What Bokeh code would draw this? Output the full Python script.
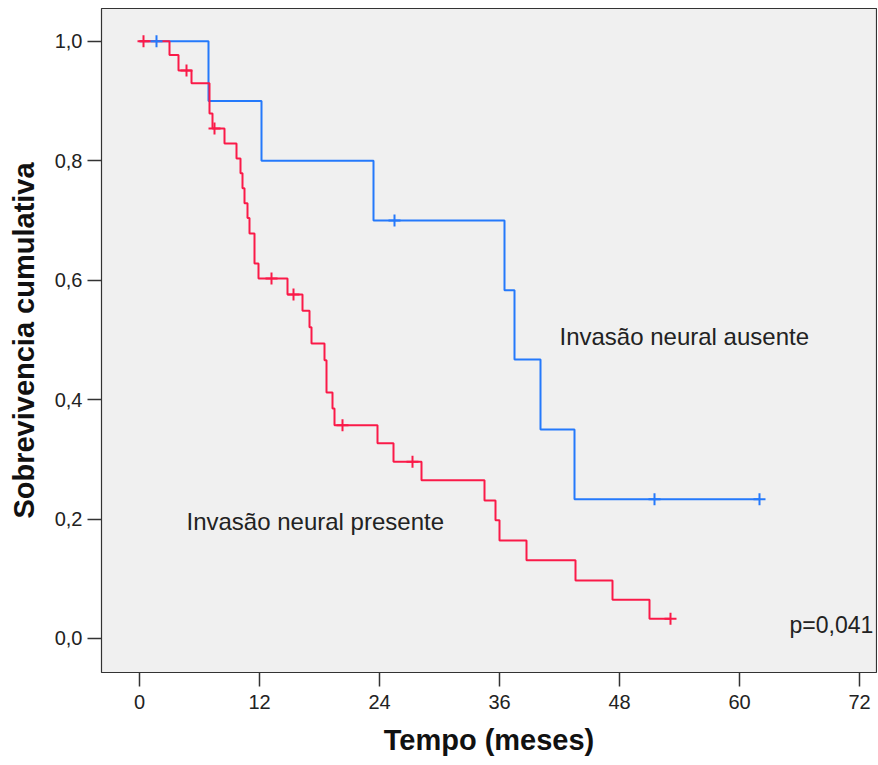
from bokeh.plotting import figure
from bokeh.models import Range1d, FixedTicker, Label
from bokeh.embed import file_html
from bokeh.resources import INLINE

# Data (months, cumulative survival)
blue_t = [0, 6.9, 12.2, 23.4, 36.5, 37.5, 40.1, 43.5, 62.0]
blue_s = [1.0, 0.9, 0.8, 0.7, 0.583, 0.467, 0.35, 0.233, 0.233]
blue_cens_t = [1.7, 25.5, 51.5, 62.0]
blue_cens_s = [1.0, 0.7, 0.233, 0.233]

red_t = [0, 3.0, 3.9, 5.2, 7.0, 7.3, 8.5, 9.7, 10.1, 10.3, 10.5, 10.8, 11.0, 11.5, 11.9,
         14.8, 16.3, 17.0, 17.2, 18.5, 18.7, 19.3, 19.5, 23.8, 25.4, 28.2, 34.5, 35.6,
         36.0, 38.7, 43.6, 47.3, 51.0, 53.1]
red_s = [1.0, 0.977, 0.951, 0.930, 0.879, 0.854, 0.829, 0.804, 0.779, 0.754, 0.729, 0.704,
         0.678, 0.628, 0.603, 0.576, 0.549, 0.521, 0.494, 0.466, 0.412, 0.385, 0.357, 0.327,
         0.296, 0.265, 0.231, 0.198, 0.164, 0.131, 0.097, 0.065, 0.033, 0.033]
red_cens_t = [0.4, 4.7, 7.5, 13.2, 15.4, 20.3, 27.3, 53.1]
red_cens_s = [1.0, 0.951, 0.854, 0.603, 0.576, 0.357, 0.296, 0.033]

x_ticks = [0, 12, 24, 36, 48, 60, 72]
y_ticks = [0.0, 0.2, 0.4, 0.6, 0.8, 1.0]
y_tick_labels = ["0,0", "0,2", "0,4", "0,6", "0,8", "1,0"]

label_blue = "Invasão neural ausente"
label_red = "Invasão neural presente"
p_text = "p=0,041"

BLUE = "#2479fb"
RED = "#fa1a48"
FONT = "Liberation Sans"

p = figure(width=877, height=764, output_backend="svg", toolbar_location=None,
           x_range=Range1d(-3.8, 73.7), y_range=Range1d(-0.057, 1.055),
           min_border_left=101, min_border_right=1, min_border_top=8, min_border_bottom=92)

p.background_fill_color = "#f0f0f0"
p.border_fill_color = "white"
p.outline_line_color = "#333333"
p.outline_line_width = 1.2
p.xgrid.visible = False
p.ygrid.visible = False

p.step(blue_t, blue_s, mode="after", line_color=BLUE, line_width=2)
p.step(red_t, red_s, mode="after", line_color=RED, line_width=2)
p.scatter(blue_cens_t, blue_cens_s, marker="cross", size=12, line_color=BLUE, line_width=2)
p.scatter(red_cens_t, red_cens_s, marker="cross", size=12, line_color=RED, line_width=2)

p.add_layout(Label(x=42, y=0.506, text=label_blue, text_font=FONT, text_font_size="24px",
                   text_color="#222222", text_baseline="middle", text_align="left"))
p.add_layout(Label(x=4.7, y=0.196, text=label_red, text_font=FONT, text_font_size="24px",
                   text_color="#222222", text_baseline="middle", text_align="left"))
p.add_layout(Label(x=65.0, y=0.022, text=p_text, text_font=FONT, text_font_size="23px",
                   text_color="#222222", text_baseline="middle", text_align="left"))

p.xaxis.ticker = FixedTicker(ticks=x_ticks)
p.yaxis.ticker = FixedTicker(ticks=y_ticks)
p.yaxis.major_label_overrides = {t: l for t, l in zip(y_ticks, y_tick_labels)}

for ax in (p.xaxis[0], p.yaxis[0]):
    ax.axis_line_color = None
    ax.major_tick_line_color = "#333333"
    ax.major_tick_line_width = 1.5
    ax.major_tick_in = 0
    ax.major_tick_out = 14
    ax.minor_tick_line_color = None
    ax.major_label_text_font = FONT
    ax.major_label_text_font_size = "20px"
    ax.major_label_text_color = "#222222"
    ax.axis_label_text_font = FONT
    ax.axis_label_text_font_size = "29px"
    ax.axis_label_text_font_style = "bold"
    ax.axis_label_text_color = "#111111"

p.xaxis.axis_label = "Tempo (meses)"
p.yaxis.axis_label = "Sobrevivencia cumulativa"
p.xaxis.major_label_standoff = 8
p.yaxis.major_label_standoff = 5
p.xaxis.axis_label_standoff = 12
p.yaxis.axis_label_standoff = 12

open("out.html", "w").write(file_html(p, INLINE))
